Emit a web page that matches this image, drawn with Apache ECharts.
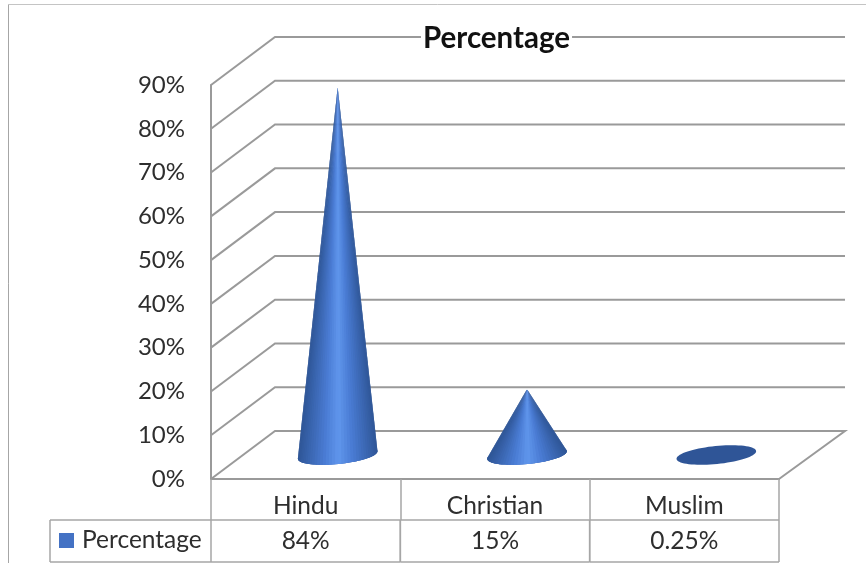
<!DOCTYPE html>
<html>
<head>
<meta charset="utf-8">
<style>html,body{margin:0;padding:0;background:#fff}#c{width:866px;height:563px}</style>
<script src="https://cdn.jsdelivr.net/npm/echarts@6/dist/echarts.min.js"></script>
</head>
<body>
<div id="c"></div>
<script>
const categories = ['Hindu', 'Christian', 'Muslim'];
const percentages = [84, 15, 0.25];
const tableLabels = ['84%', '15%', '0.25%'];
const wallTicks = [0, 10, 20, 30, 40, 50, 60, 70, 80, 90];
const seriesName = 'Percentage';

const FONT = 'Lato';
const GRID_COLOR = '#9a9a9a';
const TABLE_COLOR = '#a6a6a6';
const TEXT_COLOR = '#2e2e2e';
const DEPTH_X = 64, DEPTH_Y = -48, BACK_EXTRA = 2;
const TABLE_ROW = 41, LEGEND_LEFT = 50;
const A = 40, B = 9, TILT = -5.7 * Math.PI / 180;

function hex(c) { return [parseInt(c.slice(1,3),16), parseInt(c.slice(3,5),16), parseInt(c.slice(5,7),16)]; }
function mix(c1, c2, k) {
  const a = hex(c1), b = hex(c2);
  return 'rgb(' + a.map((v,i) => Math.round(v + (b[i]-v)*k)).join(',') + ')';
}
function shade(s) { // s from -1 (left edge) to 1 (right edge)
  const m = Math.abs(s);
  if (m < 0.35) return mix('#6096ec', '#4a7cd4', m / 0.35);
  return mix('#4a7cd4', '#2f5697', (m - 0.35) / 0.65);
}
function ellipsePoint(c, t) {
  const x = A * Math.cos(t), y = B * Math.sin(t);
  return [c[0] + x * Math.cos(TILT) - y * Math.sin(TILT),
          c[1] + x * Math.sin(TILT) + y * Math.cos(TILT)];
}

function renderWalls(params, api) {
  const v = api.value(1);
  const cs = params.coordSys;
  const y = api.coord([0, v])[1];
  const x0 = cs.x, x1 = cs.x + cs.width;
  const pts = [[x0, y], [x0 + DEPTH_X, y + DEPTH_Y], [x1 + DEPTH_X + BACK_EXTRA, y + DEPTH_Y]];
  if (v === 0) pts.push([x1, y]);
  return { type: 'polyline', shape: { points: pts },
    style: { fill: null, stroke: GRID_COLOR, lineWidth: 2 } };
}

function renderCone(params, api) {
  const i = api.value(0), v = api.value(1);
  const b = api.coord([i, 0]), t = api.coord([i, v]);
  const c = [b[0] + DEPTH_X / 2, b[1] + DEPTH_Y / 2];
  const tip = [t[0] + DEPTH_X / 2, t[1] + DEPTH_Y / 2];
  const children = [];
  const ell = [];
  for (let k = 0; k < 72; k++) ell.push(ellipsePoint(c, k / 72 * 2 * Math.PI));
  children.push({ type: 'polygon', shape: { points: ell }, style: { fill: '#2f5597' } });
  if (c[1] - tip[1] > 14) {
    // visible front arc of the base, between the two tangents seen from the tip
    const N = 360, side = [];
    for (let k = 0; k < N; k++) {
      const a = k / N * 2 * Math.PI;
      const p = ellipsePoint(c, a), q = ellipsePoint(c, a + 0.001);
      side.push((p[0]-tip[0])*(q[1]-p[1]) - (p[1]-tip[1])*(q[0]-p[0]));
    }
    let from = 0, to = 0;
    for (let k = 0; k < N; k++) {
      const n = (k + 1) % N;
      if (side[k] <= 0 && side[n] > 0) from = k;
      if (side[k] > 0 && side[n] <= 0) to = k;
    }
    const t0 = from / N * 2 * Math.PI;
    let t1 = to / N * 2 * Math.PI;
    if (t1 < t0) t1 += 2 * Math.PI;
    const W = 40;
    for (let k = 0; k < W; k++) {
      const p1 = ellipsePoint(c, t0 + (t1 - t0) * k / W);
      const pm = ellipsePoint(c, t0 + (t1 - t0) * (k + 1) / W);
      const p2 = ellipsePoint(c, t0 + (t1 - t0) * Math.min(k + 2, W) / W);
      const s = Math.cos(t0 + (t1 - t0) * (k + 0.5) / W);
      children.push({ type: 'polygon', shape: { points: [tip, p1, pm, p2] },
        style: { fill: shade(s) } });
    }
  }
  return { type: 'group', children };
}

function renderTable(params, api) {
  const i = api.value(0);
  const cs = params.coordSys;
  const band = cs.width / categories.length;
  const cx = api.coord([i, 0])[0];
  const y0 = cs.y + cs.height + TABLE_ROW, y1 = y0 + TABLE_ROW + 1;
  const left = cx - band / 2, right = cx + band / 2;
  const line = (x1, a, x2, b) => ({ type: 'line', shape: { x1, y1: a, x2, y2: b },
    style: { stroke: TABLE_COLOR, lineWidth: 1.5 } });
  const children = [
    line(left, y0, right, y0), line(left, y1, right, y1),
    line(left, y0, left, y1), line(right, y0, right, y1),
    { type: 'text', style: { x: cx, y: (y0 + y1) / 2, text: tableLabels[i],
      textAlign: 'center', textVerticalAlign: 'middle', fill: TEXT_COLOR,
      font: '24.5px ' + FONT } }
  ];
  if (i === 0) {
    children.push(line(LEGEND_LEFT, y0, left, y0), line(LEGEND_LEFT, y1, left, y1),
      line(LEGEND_LEFT, y0, LEGEND_LEFT, y1));
  }
  return { type: 'group', children };
}

const chart = echarts.init(document.getElementById('c'), null, { renderer: 'canvas' });
chart.setOption({
  animation: false,
  backgroundColor: '#ffffff',
  title: { text: 'Percentage', left: 421, top: 23, padding: [0, 2, 0, 2], backgroundColor: '#ffffff',
    textStyle: { fontFamily: FONT, fontWeight: 'bold', fontSize: 29.5, color: '#111111' } },
  legend: { data: [{ name: seriesName, icon: 'rect', itemStyle: { color: '#4472c4' } }],
    left: 59, top: 528, padding: 0, itemWidth: 15, itemHeight: 15, selectedMode: false,
    textStyle: { fontFamily: FONT, fontSize: 24.5, color: TEXT_COLOR, padding: [0, 0, 0, 3] } },
  grid: { left: 211, right: 87, top: 85, bottom: 84, containLabel: false },
  xAxis: { type: 'category', data: categories,
    axisLine: { show: true, lineStyle: { color: GRID_COLOR, width: 2 } },
    axisTick: { show: true, length: TABLE_ROW, lineStyle: { color: TABLE_COLOR, width: 1.5 } },
    axisLabel: { margin: 15, fontFamily: FONT, fontSize: 24.5, color: TEXT_COLOR },
    splitLine: { show: false } },
  yAxis: { type: 'value', min: 0, max: 90, interval: 10,
    axisLine: { show: true, lineStyle: { color: GRID_COLOR, width: 2 } },
    axisTick: { show: false },
    axisLabel: { margin: 26, padding: [10, 0, 0, 0], formatter: '{value}%', fontFamily: FONT, fontSize: 24, color: TEXT_COLOR },
    splitLine: { show: false } },
  graphic: [
    { type: 'line', silent: true, z: 0, shape: { x1: 8.5, y1: 4.5, x2: 866, y2: 4.5 }, style: { stroke: '#c4c4c4', lineWidth: 1 } },
    { type: 'line', silent: true, z: 0, shape: { x1: 8.5, y1: 4.5, x2: 8.5, y2: 563 }, style: { stroke: '#a6a6a6', lineWidth: 1 } }
  ],
  series: [
    { type: 'custom', name: 'walls', coordinateSystem: 'cartesian2d', clip: false, silent: true, z: 1,
      renderItem: renderWalls, data: wallTicks.map(v => [0, v]) },
    { type: 'custom', name: 'table', coordinateSystem: 'cartesian2d', clip: false, silent: true, z: 1,
      renderItem: renderTable, data: categories.map((c, i) => [i, percentages[i]]) },
    { type: 'custom', name: seriesName, coordinateSystem: 'cartesian2d', clip: false, silent: true, z: 3,
      itemStyle: { color: '#4472c4' },
      renderItem: renderCone, data: categories.map((c, i) => [i, percentages[i]]) }
  ]
});
</script>
</body>
</html>
